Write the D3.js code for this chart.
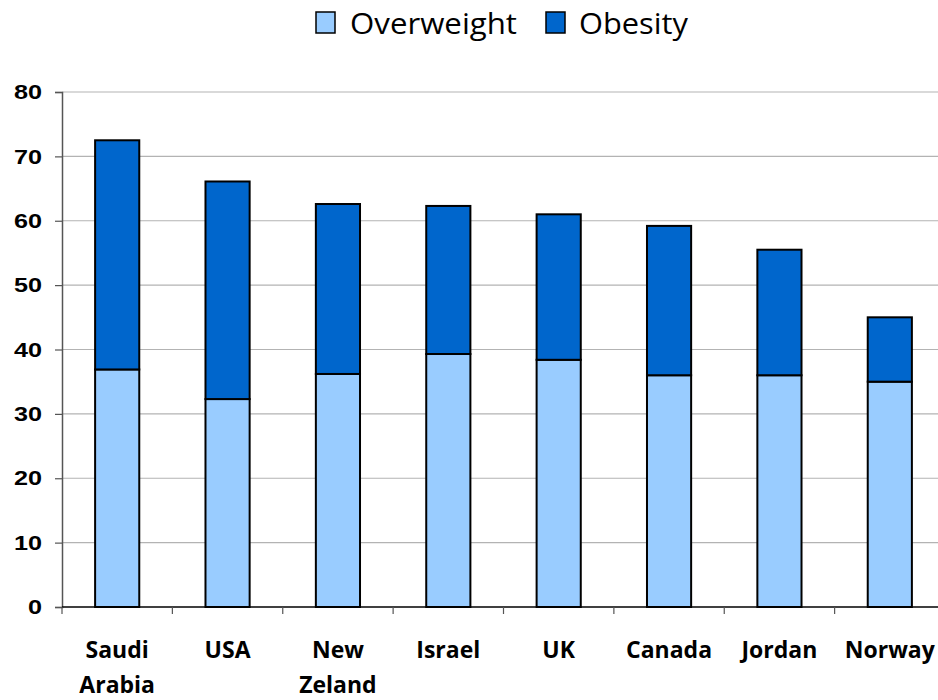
<!DOCTYPE html>
<html>
<head>
<meta charset="utf-8">
<script src="https://cdn.jsdelivr.net/npm/d3@7"></script>
<style>
  html, body { margin: 0; padding: 0; background: #fff; }
  svg { display: block; }
</style>
</head>
<body>
<svg id="chart" width="938" height="700"></svg>
<script>
// Share of adults (%) by country, stacked: overweight below, obesity on top
const categories = [["Saudi", "Arabia"], ["USA"], ["New", "Zeland"], ["Israel"], ["UK"], ["Canada"], ["Jordan"], ["Norway"]];
const overweight = [36.9, 32.3, 36.2, 39.3, 38.4, 36.0, 36.0, 35.0];
const obesity    = [35.6, 33.8, 26.4, 23.0, 22.6, 23.2, 19.5, 10.0];
const seriesNames = ["Overweight", "Obesity"];
const seriesColors = ["#99CCFF", "#0066CC"];
const yTicks = [0, 10, 20, 30, 40, 50, 60, 70, 80];

const svg = d3.select("#chart");
const margin = { left: 62, top: 92, bottom: 93 };
const plotRight = 945;
const height = 700;

const keys = categories.map(c => c.join(" "));
const rows = keys.map((k, i) => ({ key: k, Overweight: overweight[i], Obesity: obesity[i] }));
const stacked = d3.stack().keys(seriesNames)(rows);

const x = d3.scaleBand().domain(keys).range([margin.left, plotRight]).paddingInner(0.6).paddingOuter(0.3);
const y = d3.scaleLinear().domain([0, 80]).range([height - margin.bottom, margin.top]);

// horizontal gridlines
svg.append("g")
  .selectAll("line")
  .data(yTicks.filter(t => t > 0))
  .join("line")
  .attr("x1", margin.left).attr("x2", plotRight)
  .attr("y1", d => y(d)).attr("y2", d => y(d))
  .attr("stroke", "#b3b3b3").attr("stroke-width", 1.2);

// stacked bars
svg.append("g")
  .selectAll("g")
  .data(stacked)
  .join("g")
  .attr("fill", (d, i) => seriesColors[i])
  .selectAll("rect")
  .data(d => d)
  .join("rect")
  .attr("x", d => x(d.data.key))
  .attr("width", x.bandwidth())
  .attr("y", d => y(d[1]))
  .attr("height", d => y(d[0]) - y(d[1]))
  .attr("stroke", "#000")
  .attr("stroke-width", 2);

// y axis (labels widened slightly)
const labelStretch = 1.2;
const yAxis = svg.append("g")
  .attr("transform", `translate(${margin.left},0)`)
  .call(d3.axisLeft(y).tickValues(yTicks).tickSize(7).tickPadding(9.7).tickFormat(d3.format("d")));
yAxis.select(".domain").attr("stroke", "#555").attr("stroke-width", 1.5);
yAxis.selectAll(".tick line").attr("stroke", "#555").attr("stroke-width", 1.2);
yAxis.selectAll("text")
  .attr("font-family", "'Liberation Sans', Arial, sans-serif")
  .attr("font-weight", "bold").attr("font-size", 21).attr("fill", "#000")
  .attr("transform", `scale(${labelStretch},1)`);

// x axis: ticks at category boundaries
const step = x.step();
const boundaries = d3.range(keys.length + 1).map(i => margin.left + i * step);
const xg = svg.append("g");
xg.append("line")
  .attr("x1", margin.left).attr("x2", plotRight)
  .attr("y1", y(0)).attr("y2", y(0))
  .attr("stroke", "#000").attr("stroke-width", 1.5);
xg.selectAll("line.tick")
  .data(boundaries)
  .join("line")
  .attr("class", "tick")
  .attr("x1", d => d).attr("x2", d => d)
  .attr("y1", y(0)).attr("y2", y(0) + 7)
  .attr("stroke", "#555").attr("stroke-width", 1.2);

xg.selectAll("text")
  .data(categories)
  .join("text")
  .attr("x", (d, i) => x(keys[i]) + x.bandwidth() / 2)
  .attr("y", 658)
  .attr("text-anchor", "middle")
  .attr("font-family", "'Open Sans', 'Noto Sans', sans-serif")
  .attr("font-weight", "bold")
  .attr("font-size", 23)
  .attr("fill", "#000")
  .each(function(d) {
    const t = d3.select(this);
    d.forEach((line, j) => {
      t.append("tspan").attr("x", t.attr("x")).attr("dy", j === 0 ? 0 : 35).text(line);
    });
  });

// legend
const legend = svg.append("g");
const legendItems = [
  { name: seriesNames[0], color: seriesColors[0], x: 316, tx: 350, w: 167 },
  { name: seriesNames[1], color: seriesColors[1], x: 546, tx: 579, w: 109 }
];
legend.selectAll("rect")
  .data(legendItems)
  .join("rect")
  .attr("x", d => d.x).attr("y", 12)
  .attr("width", 19).attr("height", 21)
  .attr("fill", d => d.color)
  .attr("stroke", "#000").attr("stroke-width", 1.5);
legend.selectAll("text")
  .data(legendItems)
  .join("text")
  .attr("x", d => d.tx).attr("y", 34)
  .attr("font-family", "'Open Sans', 'Noto Sans', sans-serif")
  .attr("font-size", 29)
  .attr("textLength", d => d.w)
  .attr("lengthAdjust", "spacingAndGlyphs")
  .attr("fill", "#000")
  .text(d => d.name);
</script>
</body>
</html>
